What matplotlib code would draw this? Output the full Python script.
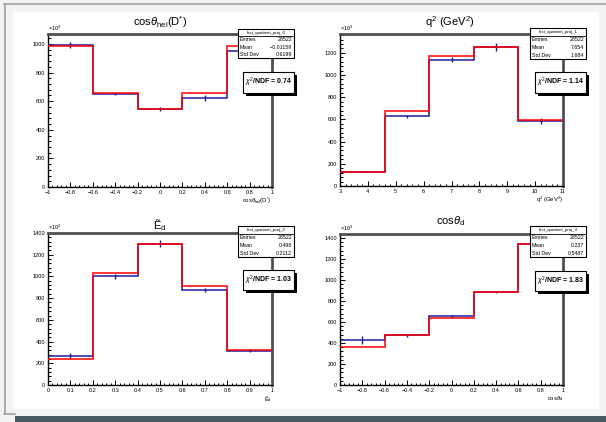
"""2x2 ROOT-style projection plots: data (blue, with errors) vs fit template (red)."""

import numpy as np
import matplotlib

matplotlib.use("Agg")
import matplotlib.pyplot as plt
from matplotlib.patches import Rectangle
from matplotlib.lines import Line2D
from matplotlib.ticker import MultipleLocator

plt.rcParams["font.family"] = ["Liberation Sans", "DejaVu Sans"]
plt.rcParams["mathtext.fontset"] = "custom"
plt.rcParams["mathtext.rm"] = "Liberation Sans"
plt.rcParams["mathtext.it"] = "Liberation Sans:italic"
plt.rcParams["mathtext.bf"] = "Liberation Sans:bold"

# --- data (values in units of 10^3) ---
titles = [
    r"cos$\theta_{\mathrm{hel}}$(D$^{*}$)",
    r"q$^{2}$ (GeV$^{2}$)",
    "\u1ebc$_{\\mathrm{d}}$",
    r"cos$\theta_{\mathrm{d}}$",
]
x_ranges = [(-1.0, 1.0), (3.0, 11.0), (0.0, 1.0), (-1.0, 1.0)]
n_bins = 5

cos_hel_data = [990, 649, 546, 621, 953]
cos_hel_err = [21, 9, 14, 19, 20]
cos_hel_fit = [988, 656, 546, 656, 988]

q2_data = [130, 629, 1140, 1257, 586]
q2_err = [6, 15, 24, 36, 27]
q2_fit = [125, 674, 1170, 1257, 592]

ed_data = [267, 1001, 1302, 875, 313]
ed_err = [25, 25, 34, 21, 9]
ed_fit = [243, 1035, 1302, 915, 322]

cos_d_data = [432, 473, 653, 889, 1343]
cos_d_err = [38, 16, 13, 9, 10]
cos_d_fit = [363, 473, 637, 889, 1343]

stats_names = ["hist_quotient_proj_0", "hist_quotient_proj_1",
               "hist_quotient_proj_2", "hist_quotient_proj_3"]
stats_entries = ["28522", "28522", "28522", "28522"]
stats_mean = ["\u22120.01159", "7.654", "0.498", "0.237"]
stats_std = ["0.6199", "1.684", "0.2112", "0.5487"]
chi2_ndf = ["0.74", "1.14", "1.03", "1.83"]

datas = [cos_hel_data, q2_data, ed_data, cos_d_data]
errs = [cos_hel_err, q2_err, ed_err, cos_d_err]
fits = [cos_hel_fit, q2_fit, ed_fit, cos_d_fit]

# --- layout (pixels on a 606x422 canvas) ---
W, H = 606, 422
frames = [(48, 34, 272, 187), (340, 34, 563, 186), (48, 233, 272, 385), (340, 234, 563, 385)]
y_tops = [1070, 1370, 1400, 1438]
x_major = [0.2, 1.0, 0.1, 0.2]
stats_boxes = [(238, 29, 294, 58), (530, 28, 586, 59), (238, 226, 294, 257), (530, 226, 586, 257)]
chi_boxes = [(243, 72, 294, 93), (535, 72, 586, 93), (243, 270, 294, 290), (535, 271, 586, 291)]
title_pos = [(160, 22), (450, 22), (160, 225), (451, 221)]

BLUE = "#1c1ca0"
RED = "#ff0000"


def rect(x0, y0, x1, y1):
    return [x0 / W, 1 - y1 / H, (x1 - x0) / W, (y1 - y0) / H]


def tick_fmt(v, _):
    if abs(v) < 1e-9:
        return "0"
    return f"{v:g}".replace("-", "\u2212")


fig = plt.figure(figsize=(W / 100, H / 100), dpi=100, facecolor="#f3f3f3")

# canvas frame decorations
fig.add_artist(Rectangle((13 / W, 1 - 409 / H), 586 / W, 397 / H, transform=fig.transFigure,
                         facecolor="white", edgecolor="none", zorder=0))
fig.add_artist(Rectangle((15 / W, 0), 591 / W, 6 / H, transform=fig.transFigure,
                         facecolor="#4b5960", edgecolor="none", zorder=0))
for xs, ys in [((4, 606), (4, 4)), ((4.5, 4.5), (4, 414)), ((4, 15), (414, 414))]:
    fig.add_artist(Line2D([x / W for x in xs], [1 - y / H for y in ys], transform=fig.transFigure,
                          color="#a0a0a0", lw=1.2, zorder=0))

for i in range(4):
    ax = fig.add_axes(rect(*frames[i]))
    lo, hi = x_ranges[i]
    edges = np.linspace(lo, hi, n_bins + 1)
    centers = 0.5 * (edges[:-1] + edges[1:])

    ax.stairs(datas[i], edges, color=BLUE, lw=1.1, baseline=None, zorder=2)
    ax.errorbar(centers, datas[i], yerr=errs[i], fmt="none", ecolor=BLUE, elinewidth=1.0, zorder=2)
    ax.stairs(fits[i], edges, color=RED, lw=1.3, alpha=0.85, baseline=None, zorder=3)

    ax.set_xlim(lo, hi)
    ax.set_ylim(0, y_tops[i])
    ax.xaxis.set_major_locator(MultipleLocator(x_major[i]))
    ax.xaxis.set_minor_locator(MultipleLocator(x_major[i] / 5))
    ax.yaxis.set_major_locator(MultipleLocator(200))
    ax.yaxis.set_minor_locator(MultipleLocator(40))
    ax.tick_params(which="both", direction="in", labelsize=4, width=0.7, pad=2)
    ax.tick_params(which="major", length=3.5)
    ax.tick_params(which="minor", length=1.8)
    ax.xaxis.set_major_formatter(matplotlib.ticker.FuncFormatter(tick_fmt))

    for side in ("left", "bottom"):
        ax.spines[side].set_linewidth(1.0)
        ax.spines[side].set_color("black")
    for side in ("top", "right"):
        ax.spines[side].set_linewidth(2.0)
        ax.spines[side].set_color("#505050")

    ax.text(0.0, 1.005, r"$\times$10$^{3}$", transform=ax.transAxes, fontsize=4,
            ha="left", va="bottom")
    ax.text(1.0, -0.06, titles[i], transform=ax.transAxes, fontsize=4.2,
            ha="right", va="top")

    tx, ty = title_pos[i]
    fig.text(tx / W, 1 - ty / H, titles[i], fontsize=8, ha="center", va="center")

    # stats box
    x0, y0, x1, y1 = stats_boxes[i]
    fig.add_artist(Rectangle((x0 / W, 1 - y1 / H), (x1 - x0) / W, (y1 - y0) / H,
                             transform=fig.transFigure, facecolor="white",
                             edgecolor="black", lw=0.8, zorder=5))
    hh = (y1 - y0) / 4
    fig.add_artist(Line2D([x0 / W, x1 / W], [1 - (y0 + hh) / H] * 2, transform=fig.transFigure,
                          color="black", lw=0.6, zorder=6))
    fig.text((x0 + x1) / 2 / W, 1 - (y0 + hh / 2) / H, stats_names[i], fontsize=3.2,
             ha="center", va="center", zorder=7)
    rows = [("Entries", stats_entries[i]), ("Mean", stats_mean[i]), ("Std Dev", stats_std[i])]
    for k, (lab, val) in enumerate(rows):
        yy = 1 - (y0 + hh * (k + 1.5)) / H
        fig.text((x0 + 2) / W, yy, lab, fontsize=3.8, ha="left", va="center", zorder=7)
        fig.text((x1 - 2) / W, yy, val, fontsize=3.8, ha="right", va="center", zorder=7)

    # chi2 box with shadow
    x0, y0, x1, y1 = chi_boxes[i]
    fig.add_artist(Rectangle(((x0 + 3) / W, 1 - (y1 + 3) / H), (x1 - x0) / W, (y1 - y0) / H,
                             transform=fig.transFigure, facecolor="black",
                             edgecolor="none", zorder=5))
    fig.add_artist(Rectangle((x0 / W, 1 - y1 / H), (x1 - x0) / W, (y1 - y0) / H,
                             transform=fig.transFigure, facecolor="white",
                             edgecolor="black", lw=0.8, zorder=6))
    fig.text((x0 + x1) / 2 / W, 1 - (y0 + y1) / 2 / H,
             r"$\chi^{2}$/NDF = " + chi2_ndf[i], fontsize=5, fontweight="bold",
             ha="center", va="center", zorder=7)

fig.savefig("out.png", dpi=100, facecolor=fig.get_facecolor())
